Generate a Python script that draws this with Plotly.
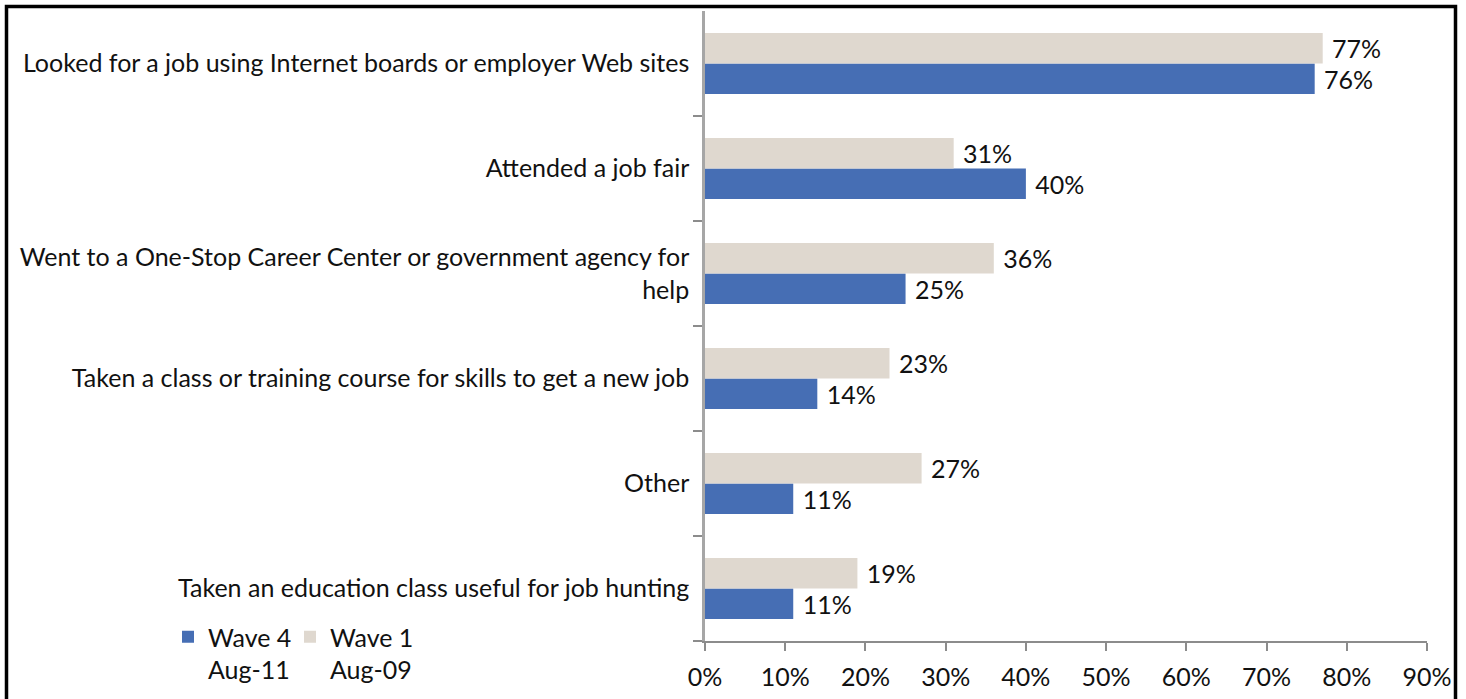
import plotly.graph_objects as go

# Job-search activities, listed top to bottom
activities = [
    "Looked for a job using Internet boards or employer Web sites",
    "Attended a job fair",
    "Went to a One-Stop Career Center or government agency for help",
    "Taken a class or training course for skills to get a new job",
    "Other",
    "Taken an education class useful for job hunting",
]
activity_labels = [
    "Looked for a job using Internet boards or employer Web sites",
    "Attended a job fair",
    "Went to a One-Stop Career Center or government agency for<br>help",
    "Taken a class or training course for skills to get a new job",
    "Other",
    "Taken an education class useful for job hunting",
]
wave1_aug09 = [77, 31, 36, 23, 27, 19]
wave4_aug11 = [76, 40, 25, 14, 11, 11]
x_ticks = [0, 10, 20, 30, 40, 50, 60, 70, 80, 90]

FONT = "Lato"
FS = 25
W, H = 1466, 699
ML, MR, MT, MB = 705, 39, 11, 58

fig = go.Figure()
fig.add_trace(go.Bar(
    y=activities, x=wave4_aug11, orientation="h",
    name="Wave 4<br>Aug-11", marker=dict(color="#466EB4", line=dict(width=0)),
    text=[f"\u00a0{v}%" for v in wave4_aug11], textposition="outside",
    constraintext="none", cliponaxis=False,
    outsidetextfont=dict(family=FONT, size=FS, color="#111111"),
    legend="legend",
))
fig.add_trace(go.Bar(
    y=activities, x=wave1_aug09, orientation="h",
    name="Wave 1<br>Aug-09", marker=dict(color="#DFD8CF", line=dict(width=0)),
    text=[f"\u00a0{v}%" for v in wave1_aug09], textposition="outside",
    constraintext="none", cliponaxis=False,
    outsidetextfont=dict(family=FONT, size=FS, color="#111111"),
    legend="legend2",
))

# outer frame around the whole chart, in plot-area paper units
pw, ph = W - ML - MR, H - MT - MB
def px_to_paper_x(px):
    return (px - ML) / pw
def px_to_paper_y(py):
    return (H - MB - py) / ph

fig.add_shape(
    type="rect", xref="paper", yref="paper",
    x0=px_to_paper_x(6.5), x1=px_to_paper_x(1455.5),
    y0=px_to_paper_y(720), y1=px_to_paper_y(6.5),
    line=dict(color="black", width=3.5), fillcolor="rgba(0,0,0,0)",
)

legend_style = dict(
    orientation="h", xanchor="left", yanchor="top",
    y=px_to_paper_y(614),
    font=dict(family=FONT, size=FS, color="#111111"),
    valign="top", bgcolor="rgba(0,0,0,0)",
)

fig.update_layout(
    width=W, height=H,
    margin=dict(l=ML, r=MR, t=MT, b=MB, autoexpand=False),
    paper_bgcolor="white", plot_bgcolor="white",
    barmode="group", bargap=0.42, bargroupgap=0,
    font=dict(family=FONT, size=FS, color="#111111"),
    showlegend=True,
    legend=dict(x=px_to_paper_x(168), **legend_style),
    legend2=dict(x=px_to_paper_x(290), **legend_style),
    xaxis=dict(
        range=[0, 90], tickmode="array", tickvals=x_ticks,
        ticktext=[f"{v}%" for v in x_ticks],
        showgrid=False, zeroline=False,
        showline=True, linecolor="#8C8C8C", linewidth=1.5,
        ticks="outside", ticklen=8, tickcolor="#8C8C8C", tickwidth=1.5,
        ticklabelstandoff=5,
        tickfont=dict(family=FONT, size=FS, color="#111111"),
    ),
    yaxis=dict(
        categoryorder="array", categoryarray=activities[::-1],
        tickvals=activities, ticktext=activity_labels,
        tickson="boundaries",
        showgrid=False, zeroline=False,
        showline=True, linecolor="#A6A6A6", linewidth=2.5,
        ticks="outside", ticklen=9, tickcolor="#8C8C8C", tickwidth=1.5,
        ticklabelstandoff=8,
        tickfont=dict(family=FONT, size=FS, color="#111111"),
    ),
)

fig.write_html("out.html")
